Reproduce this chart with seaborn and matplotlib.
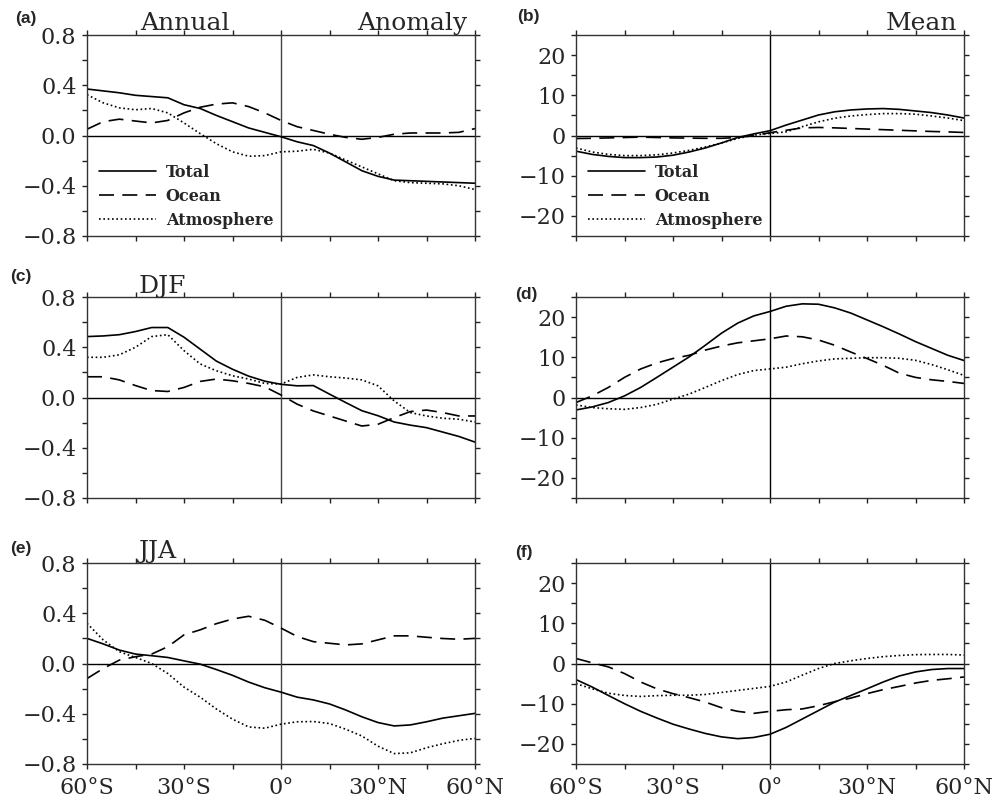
import matplotlib
matplotlib.use("Agg")
import matplotlib.pyplot as plt
import seaborn as sns
from matplotlib.ticker import FixedLocator

sns.set_style("ticks")
plt.rcParams['font.family'] = ['DejaVu Serif']

lat = [-60, -55, -50, -45, -40, -35, -30, -25, -20, -15, -10, -5, 0,
       5, 10, 15, 20, 25, 30, 35, 40, 45, 50, 55, 60]

# (a) Annual anomaly
a_total = [0.37, 0.355, 0.34, 0.32, 0.31, 0.30, 0.245, 0.215, 0.16, 0.11, 0.06, 0.025, -0.01,
           -0.05, -0.08, -0.14, -0.21, -0.28, -0.325, -0.355, -0.36, -0.365, -0.37, -0.375, -0.38]
a_ocean = [0.05, 0.11, 0.13, 0.115, 0.10, 0.12, 0.18, 0.225, 0.25, 0.26, 0.23, 0.18, 0.12,
           0.07, 0.04, 0.01, -0.015, -0.03, -0.015, 0.01, 0.02, 0.02, 0.02, 0.025, 0.055]
a_atmos = [0.325, 0.26, 0.22, 0.205, 0.215, 0.18, 0.10, 0.015, -0.065, -0.13, -0.165, -0.16, -0.13,
           -0.125, -0.11, -0.14, -0.195, -0.25, -0.305, -0.36, -0.375, -0.38, -0.385, -0.40, -0.43]

# (b) Annual mean
b_total = [-3.9, -4.7, -5.2, -5.5, -5.5, -5.35, -4.9, -4.1, -3.1, -1.85, -0.5, 0.4, 1.2,
           2.6, 3.85, 5.1, 5.9, 6.35, 6.6, 6.7, 6.5, 6.1, 5.7, 5.1, 4.35]
b_ocean = [-0.75, -0.7, -0.6, -0.5, -0.4, -0.5, -0.6, -0.65, -0.7, -0.7, -0.5, 0.0, 0.7,
           1.3, 1.9, 2.0, 1.9, 1.75, 1.6, 1.45, 1.3, 1.15, 1.0, 0.9, 0.75]
b_atmos = [-3.1, -4.1, -4.7, -5.0, -5.0, -4.8, -4.35, -3.7, -2.85, -1.85, -0.75, 0.1, 0.5,
           0.9, 2.2, 3.4, 4.3, 4.85, 5.2, 5.45, 5.45, 5.3, 4.85, 4.35, 3.7]

# (c) DJF anomaly
c_total = [0.485, 0.49, 0.50, 0.525, 0.557, 0.557, 0.48, 0.385, 0.29, 0.225, 0.17, 0.13, 0.105,
           0.093, 0.095, 0.027, -0.04, -0.105, -0.145, -0.195, -0.22, -0.24, -0.275, -0.31, -0.355]
c_ocean = [0.165, 0.165, 0.14, 0.095, 0.055, 0.048, 0.08, 0.128, 0.147, 0.133, 0.112, 0.085, 0.02,
           -0.053, -0.107, -0.147, -0.187, -0.227, -0.213, -0.16, -0.112, -0.10, -0.12, -0.147, -0.147]
c_atmos = [0.32, 0.32, 0.34, 0.40, 0.485, 0.50, 0.373, 0.267, 0.213, 0.173, 0.147, 0.112, 0.107,
           0.16, 0.18, 0.165, 0.155, 0.14, 0.093, -0.027, -0.12, -0.147, -0.165, -0.173, -0.195]

# (d) DJF mean
d_total = [-3.1, -2.35, -1.25, 0.4, 2.5, 5.0, 7.55, 10.1, 13.0, 16.0, 18.5, 20.3, 21.4,
           22.7, 23.3, 23.2, 22.3, 21.0, 19.3, 17.6, 15.8, 13.9, 12.2, 10.5, 9.2]
d_ocean = [-1.25, 0.4, 2.5, 5.0, 7.1, 8.6, 9.7, 10.5, 11.8, 12.8, 13.6, 14.1, 14.6,
           15.3, 15.1, 14.3, 13.0, 11.3, 9.7, 8.0, 6.05, 5.0, 4.4, 4.0, 3.5]
d_atmos = [-1.85, -2.5, -2.8, -2.95, -2.5, -1.7, -0.4, 0.85, 2.5, 4.2, 5.7, 6.7, 7.1,
           7.55, 8.4, 9.1, 9.6, 9.75, 9.9, 9.9, 9.75, 9.25, 8.2, 6.9, 5.5]

# (e) JJA anomaly
e_total = [0.20, 0.156, 0.107, 0.075, 0.062, 0.048, 0.021, -0.005, -0.048, -0.094, -0.148, -0.193, -0.228,
           -0.268, -0.29, -0.322, -0.37, -0.424, -0.47, -0.497, -0.489, -0.464, -0.435, -0.416, -0.397]
e_ocean = [-0.12, -0.04, 0.027, 0.054, 0.075, 0.134, 0.228, 0.268, 0.317, 0.354, 0.376, 0.344, 0.282,
           0.215, 0.174, 0.161, 0.148, 0.156, 0.188, 0.22, 0.22, 0.209, 0.199, 0.193, 0.20]
e_atmos = [0.32, 0.188, 0.094, 0.048, 0.0, -0.08, -0.188, -0.268, -0.362, -0.443, -0.505, -0.515, -0.483,
           -0.464, -0.462, -0.478, -0.523, -0.577, -0.658, -0.717, -0.711, -0.671, -0.639, -0.612, -0.596]

# (f) JJA mean
f_total = [-4.0, -5.85, -7.95, -10.0, -11.9, -13.55, -15.1, -16.3, -17.4, -18.25, -18.7, -18.4, -17.6,
           -15.9, -13.8, -11.7, -9.6, -7.95, -6.3, -4.6, -3.1, -2.1, -1.5, -1.25, -1.25]
f_ocean = [1.25, 0.17, -0.84, -2.5, -4.6, -6.3, -7.5, -8.5, -9.6, -11.0, -11.9, -12.4, -11.9,
           -11.5, -11.3, -10.5, -9.5, -8.6, -7.5, -6.5, -5.7, -4.85, -4.2, -3.8, -3.35]
f_atmos = [-5.0, -6.3, -7.4, -7.95, -8.2, -8.0, -7.9, -7.9, -7.7, -7.2, -6.7, -6.2, -5.7,
           -4.6, -2.9, -1.25, 0.0, 0.67, 1.25, 1.7, 2.0, 2.2, 2.25, 2.25, 2.1]

series_names = ["Total", "Ocean", "Atmosphere"]
x_tick_labels = ["60°S", "30°S", "0°", "30°N", "60°N"]
x_major = [-60, -30, 0, 30, 60]
x_minor = [-45, -15, 15, 45]
left_yticks = [-0.8, -0.4, 0.0, 0.4, 0.8]
left_ylabels = ["\u22120.8", "\u22120.4", "0.0", "0.4", "0.8"]
left_yminor = [-0.6, -0.2, 0.2, 0.6]
right_yticks = [-20, -10, 0, 10, 20]
right_ylabels = ["\u221220", "\u221210", "0", "10", "20"]
right_yminor = [-25, -15, -5, 5, 15, 25]

panels = [
    ("(a)", [a_total, a_ocean, a_atmos], "left"),
    ("(b)", [b_total, b_ocean, b_atmos], "right"),
    ("(c)", [c_total, c_ocean, c_atmos], "left"),
    ("(d)", [d_total, d_ocean, d_atmos], "right"),
    ("(e)", [e_total, e_ocean, e_atmos], "left"),
    ("(f)", [f_total, f_ocean, f_atmos], "right"),
]

W, H = 994, 801
fig = plt.figure(figsize=(W / 100, H / 100), dpi=100)

col_left = [87, 576]
ax_w = 388
row_top = [35, 297, 563]
ax_h = 201

label_pos = [(15, 18), (517, 16), (10, 277), (515, 294), (10, 548), (515, 553)]

axes = []
for i, (lab, data, side) in enumerate(panels):
    r, c = divmod(i, 2)
    x0 = col_left[c] / W
    y0 = 1 - (row_top[r] + ax_h) / H
    ax = fig.add_axes([x0, y0, ax_w / W, ax_h / H])
    axes.append(ax)

    ax.axhline(0, color="black", lw=1.0, zorder=1)
    ax.axvline(0, color="#444444" if side == "left" else "black", lw=1.0, zorder=1)

    styles = ["-", "--", ":"]
    for name, vals, ls in zip(series_names, data, styles):
        sns.lineplot(x=lat, y=vals, ax=ax, color="black", lw=1.2,
                     label=name, legend=False)
        ln = ax.lines[-1]
        if ls == "--":
            ln.set_dashes((9, 5))
        elif ls == ":":
            ln.set_dashes((1, 1.6))

    ax.set_xlim(-60, 60)
    ax.xaxis.set_major_locator(FixedLocator(x_major))
    ax.xaxis.set_minor_locator(FixedLocator(x_minor))
    if r == 2:
        ax.set_xticklabels(x_tick_labels)
    else:
        ax.set_xticklabels([])

    if side == "left":
        ax.set_ylim(-0.8, 0.8)
        ax.yaxis.set_major_locator(FixedLocator(left_yticks))
        ax.yaxis.set_minor_locator(FixedLocator(left_yminor))
        ax.set_yticklabels(left_ylabels)
    else:
        ax.set_ylim(-25, 25)
        ax.yaxis.set_major_locator(FixedLocator(right_yticks))
        ax.yaxis.set_minor_locator(FixedLocator(right_yminor))
        ax.set_yticklabels(right_ylabels)

    ax.tick_params(which="both", direction="out", top=True, right=True,
                   length=3.5, width=1.0, color="#222222", labelsize=16, pad=4)
    ax.tick_params(axis="x", pad=6)
    for s in ax.spines.values():
        s.set_visible(True)
        s.set_color("#333333")
        s.set_linewidth(1.0)
    ax.set_xlabel("")
    ax.set_ylabel("")

    fig.text(label_pos[i][0] / W, 1 - label_pos[i][1] / H, lab,
             family="Liberation Sans", weight="bold", fontsize=12.5,
             ha="left", va="center")

    if i in (0, 1):
        ax.legend(loc="lower left", bbox_to_anchor=(0.03, 0.035),
                  frameon=False, handlelength=3.6, handletextpad=0.6,
                  labelspacing=0.45, borderpad=0, borderaxespad=0,
                  prop={"family": "DejaVu Serif", "weight": "bold", "size": 11.5})

# titles
title_kw = dict(fontsize=18, family="DejaVu Serif", va="baseline")
axes[0].text(0.137, 1.025, "Annual", transform=axes[0].transAxes, ha="left", **title_kw)
axes[0].text(0.979, 1.025, "Anomaly", transform=axes[0].transAxes, ha="right", **title_kw)
axes[1].text(0.982, 1.025, "Mean", transform=axes[1].transAxes, ha="right", **title_kw)
axes[2].text(0.132, 1.02, "DJF", transform=axes[2].transAxes, ha="left", **title_kw)
axes[4].text(0.132, 1.025, "JJA", transform=axes[4].transAxes, ha="left", **title_kw)

fig.savefig("out.png", dpi=100)
